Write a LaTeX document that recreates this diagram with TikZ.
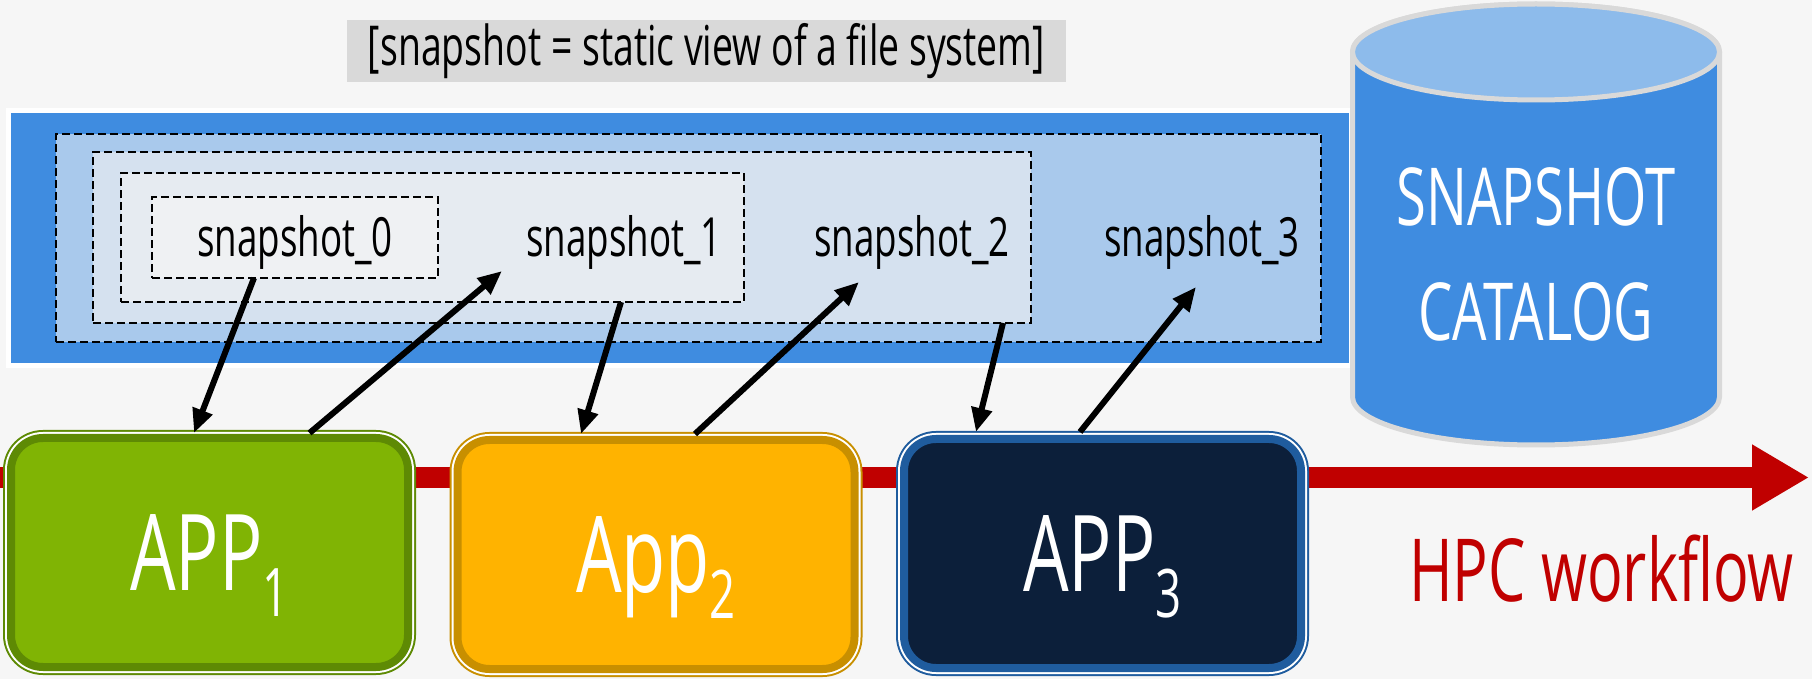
\documentclass[tikz,border=0pt]{standalone}
\usepackage{fontspec}
\setmainfont{Open Sans}[FakeStretch=0.68]
\usetikzlibrary{arrows.meta}

\definecolor{bandblue}{HTML}{3F8CE0}
\definecolor{toplight}{HTML}{8DBBEB}
\definecolor{lvlthree}{HTML}{A9C9EC}
\definecolor{lvltwo}{HTML}{D5E1EF}
\definecolor{lvlone}{HTML}{E6EBF1}
\definecolor{lvlzero}{HTML}{EFF1F3}
\definecolor{titlegray}{HTML}{D9D9D9}
\definecolor{appgreen}{HTML}{80B404}
\definecolor{appgreendark}{HTML}{5E8A04}
\definecolor{appyellow}{HTML}{FFB300}
\definecolor{appyellowdark}{HTML}{C88F00}
\definecolor{appnavy}{HTML}{0C1F3A}
\definecolor{appnavydark}{HTML}{1F5C9E}
\definecolor{flowred}{HTML}{C00000}
\definecolor{paper}{HTML}{F6F6F6}

\newcommand{\appsub}[1]{\raisebox{-13pt}[0pt][0pt]{\fontsize{33.5}{33.5}\selectfont #1}}

\tikzset{
  lvlbox/.style={rectangle, draw=black, line width=1pt, dash pattern=on 4pt off 2pt,
    inner sep=0pt, outer sep=0pt},
  snaptext/.style={inner sep=0pt, anchor=base, font=\fontsize{27}{27}\selectfont},
  appbox/.style 2 args={rectangle, rounded corners=16pt, minimum width=198.5pt,
    minimum height=114.5pt, inner sep=0pt, outer sep=0pt, fill=#1, draw=#2, line width=4pt,
    preaction={draw=#2, line width=8pt}, preaction={draw=white, line width=6pt},
    text=white, text depth=0pt, font=\fontsize{53}{53}\selectfont},
  link/.style={-{Triangle[length=12pt,width=10pt]}, line width=3pt, black},
}

\begin{document}
\begin{tikzpicture}[x=0.5pt,y=-0.5pt]
  \useasboundingbox (0,0) rectangle (1812,679);
  \fill[paper] (0,0) rectangle (1812,679);

  \node[
  rectangle,
  fill=titlegray,
  minimum width=359.5pt,
  minimum height=31pt,
  inner sep=0pt,
  font=\fontsize{27.5}{27.5}\selectfont] (title) at (706.5,51) {[snapshot = static view of a file system]};

  \node[
  rectangle,
  fill=bandblue,
  draw=white,
  line width=2.5pt,
  minimum width=671.5pt,
  minimum height=127.5pt,
  inner sep=0pt,
  outer sep=0pt] (band) at (680,238) {};

  \node[lvlbox, fill=lvlthree, minimum width=632.5pt, minimum height=104pt] (lvl3) at (688.5,238) {};
  \node[lvlbox, fill=lvltwo, minimum width=469pt, minimum height=85.5pt] (lvl2) at (562,237.5) {};
  \node[lvlbox, fill=lvlone, minimum width=311.5pt, minimum height=64.5pt] (lvl1) at (432.5,237.5) {};
  \node[lvlbox, fill=lvlzero, minimum width=143pt, minimum height=40.5pt] (lvl0) at (295,237.5) {};

  \node[snaptext] (snap0) at (295,257) {snapshot\_0};
  \node[snaptext] (snap1) at (624,257) {snapshot\_1};
  \node[snaptext] (snap2) at (912,257) {snapshot\_2};
  \node[snaptext] (snap3) at (1202,257) {snapshot\_3};

  \filldraw[fill=bandblue, draw=titlegray, line width=2.5pt]
    (1352.5,52) -- (1352.5,397)
    arc[start angle=180, end angle=360, x radius=91.75pt, y radius=24pt]
    -- (1719.5,52)
    arc[start angle=0, end angle=180, x radius=91.75pt, y radius=24pt] -- cycle;
  \filldraw[fill=toplight, draw=titlegray, line width=2.5pt]
    (1536,52) ellipse [x radius=91.75pt, y radius=24pt];
  \node[text=white, align=center, font=\fontsize{40}{57.5}\selectfont] (catalog) at (1536,254.5) {SNAPSHOT\\CATALOG};

  \coordinate (wfstart) at (0,477.5);
  \coordinate (wfend) at (1809,477.5);
  \draw[flowred, line width=10.5pt, -{Triangle[length=28.5pt,width=31pt]}] (wfstart) -- (wfend);

  \node[appbox={appgreen}{appgreendark}] (app1) at (209.5,552.5) {APP\appsub{1}};
  \node[appbox={appyellow}{appyellowdark}] (app2) at (656,554.5) {App\appsub{2}};
  \node[appbox={appnavy}{appnavydark}] (app3) at (1102.5,553.5) {APP\appsub{3}};

  \coordinate (tip1) at (502,271);
  \coordinate (tip2) at (859,282);
  \coordinate (tip3) at (1196,287);

  \draw[link] ([xshift=-20.5pt]lvl0.south) -- ([xshift=-7.75pt,yshift=2.5pt]app1.north);
  \draw[link] ([xshift=50pt,yshift=2.5pt]app1.north) -- (tip1);
  \draw[link] ([xshift=94.25pt]lvl1.south) -- ([xshift=-37.5pt,yshift=3pt]app2.north);
  \draw[link] ([xshift=19.5pt,yshift=3pt]app2.north) -- (tip2);
  \draw[link] ([xshift=-14pt]lvl2.south east) -- ([xshift=-63.25pt,yshift=3.5pt]app3.north);
  \draw[link] ([xshift=-11.25pt,yshift=3.5pt]app3.north) -- (tip3);

  \node[text=flowred, anchor=base, inner sep=0pt, font=\fontsize{43.5}{43.5}\selectfont] (hpc) at (1601.5,602) {HPC workflow};
\end{tikzpicture}
\end{document}
